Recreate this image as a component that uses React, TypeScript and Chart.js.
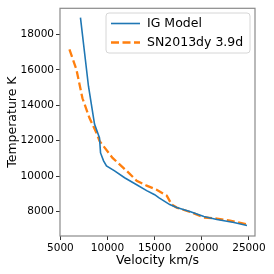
import React, { useEffect, useRef } from "react";
import { Chart, registerables } from "chart.js";

Chart.register(...registerables);

const igVelocity = [7130, 7550, 7980, 8620, 9150, 9260, 9580, 9890, 10750, 11810, 13090, 14150, 15000, 15430, 16600, 17340, 18730, 20220, 21600, 23410, 24790];
const igTemperature = [18955, 17045, 15080, 12940, 12155, 11310, 10860, 10580, 10300, 9910, 9510, 9180, 8950, 8780, 8390, 8220, 8000, 7715, 7550, 7380, 7210];

const snVelocity = [5960, 6700, 7340, 8090, 8830, 9150, 10530, 12020, 13090, 14150, 15210, 16280, 16810, 17340, 18940, 20220, 21600, 22980, 24790];
const snTemperature = [17160, 16030, 14400, 13280, 12440, 11990, 11030, 10300, 9740, 9460, 9230, 8900, 8390, 8220, 7940, 7660, 7600, 7490, 7265];

const xTicks = [5000, 10000, 15000, 20000, 25000];
const yTicks = [8000, 10000, 12000, 14000, 16000, 18000];

const seriesNames = ["IG Model", "SN2013dy 3.9d"];
const xTitle = "Velocity km/s";
const yTitle = "Temperature K";

const BLUE = "#1f77b4";
const ORANGE = "#ff7f0e";
const FONT = "'DejaVu Sans', sans-serif";

export default function App() {
  const ref = useRef<HTMLCanvasElement>(null);
  useEffect(() => {
    const canvas = ref.current!;
    const framePlugin = {
      id: "frame",
      afterDraw(chart: any) {
        const { ctx, chartArea: a } = chart;
        ctx.save();
        ctx.strokeStyle = "#8a8a8a";
        ctx.lineWidth = 1.2;
        ctx.strokeRect(a.left, a.top, a.right - a.left, a.bottom - a.top);
        // legend
        const lx = 106, ly = 13, lw = 144, lh = 40, r = 3;
        ctx.beginPath();
        ctx.moveTo(lx + r, ly);
        ctx.lineTo(lx + lw - r, ly);
        ctx.arcTo(lx + lw, ly, lx + lw, ly + r, r);
        ctx.lineTo(lx + lw, ly + lh - r);
        ctx.arcTo(lx + lw, ly + lh, lx + lw - r, ly + lh, r);
        ctx.lineTo(lx + r, ly + lh);
        ctx.arcTo(lx, ly + lh, lx, ly + lh - r, r);
        ctx.lineTo(lx, ly + r);
        ctx.arcTo(lx, ly, lx + r, ly, r);
        ctx.closePath();
        ctx.fillStyle = "rgba(255,255,255,0.85)";
        ctx.fill();
        ctx.strokeStyle = "#d6d6d6";
        ctx.lineWidth = 1;
        ctx.stroke();
        const rows = [
          { y: 23.5, color: BLUE, w: 1.6, dash: [] as number[] },
          { y: 42.5, color: ORANGE, w: 2.3, dash: [8, 3.5] },
        ];
        rows.forEach((row, i) => {
          ctx.beginPath();
          ctx.setLineDash(row.dash);
          ctx.strokeStyle = row.color;
          ctx.lineWidth = row.w;
          ctx.moveTo(111, row.y);
          ctx.lineTo(140, row.y);
          ctx.stroke();
          ctx.setLineDash([]);
          ctx.fillStyle = "#000";
          ctx.font = `12.5px ${FONT}`;
          ctx.textBaseline = "middle";
          ctx.textAlign = "left";
          ctx.fillText(seriesNames[i], 147, row.y);
        });
        ctx.restore();
      },
    };
    const chart = new Chart(canvas, {
      type: "scatter",
      data: {
        datasets: [
          {
            label: seriesNames[0],
            data: igVelocity.map((v, i) => ({ x: v, y: igTemperature[i] })),
            showLine: true,
            borderColor: BLUE,
            borderWidth: 1.6,
            pointRadius: 0,
            tension: 0,
          },
          {
            label: seriesNames[1],
            data: snVelocity.map((v, i) => ({ x: v, y: snTemperature[i] })),
            showLine: true,
            borderColor: ORANGE,
            borderWidth: 2.3,
            borderDash: [8, 3.5],
            pointRadius: 0,
            tension: 0,
          },
        ],
      },
      options: {
        responsive: false,
        animation: false,
        layout: { padding: { top: 6, right: 19, left: 0, bottom: 0 } },
        plugins: { legend: { display: false }, tooltip: { enabled: false } },
        scales: {
          x: {
            type: "linear",
            min: 4960,
            max: 25640,
            afterBuildTicks: (s: any) => {
              s.ticks = xTicks.map((v) => ({ value: v }));
            },
            afterFit: (s: any) => {
              s.height = 38;
            },
            ticks: { font: { family: FONT, size: 10.5 }, color: "#000", padding: 2, maxRotation: 0, autoSkip: false, callback: (v: any) => String(v) },
            grid: { drawOnChartArea: false, drawTicks: true, tickLength: 4, color: "#333" },
            border: { display: false },
            title: { display: true, text: xTitle, font: { family: FONT, size: 12.5 }, color: "#000", padding: { top: 0, bottom: 6 } },
          },
          y: {
            type: "linear",
            min: 6615,
            max: 19485,
            afterBuildTicks: (s: any) => {
              s.ticks = yTicks.map((v) => ({ value: v }));
            },
            afterFit: (s: any) => {
              s.width = 60;
            },
            ticks: { font: { family: FONT, size: 10.5 }, color: "#000", padding: 2, autoSkip: false, callback: (v: any) => String(v) },
            grid: { drawOnChartArea: false, drawTicks: true, tickLength: 4, color: "#333" },
            border: { display: false },
            title: { display: true, text: yTitle, font: { family: FONT, size: 12.5 }, color: "#000", padding: { top: 5, bottom: 0 } },
          },
        },
      },
      plugins: [framePlugin],
    } as any);
    return () => chart.destroy();
  }, []);
  return (
    <div style={{ position: "absolute", left: 0, top: 0, width: 274, height: 274, background: "#fff" }}>
      <canvas ref={ref} width={274} height={274} />
    </div>
  );
}
